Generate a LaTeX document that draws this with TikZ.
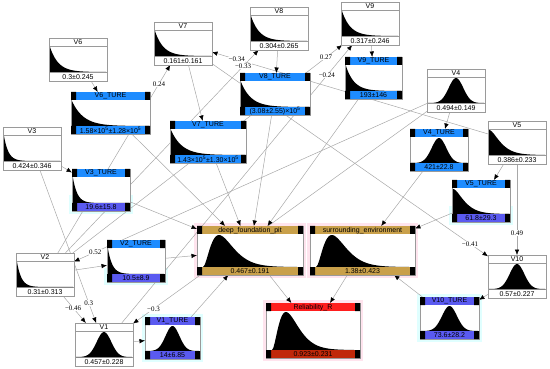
\documentclass[tikz,border=0pt]{standalone}
\usepackage{fontspec}
\setmainfont{Liberation Sans}
\newfontfamily\wtfont{Liberation Serif}
\usetikzlibrary{arrows.meta, calc, backgrounds}
\definecolor{barblue}{HTML}{1E8CFF}
\definecolor{barviolet}{HTML}{5A5AF0}
\definecolor{bartan}{HTML}{C9A04A}
\definecolor{barred}{HTML}{FF1E1E}
\definecolor{bardark}{HTML}{C0280A}
\definecolor{framegray}{HTML}{9A9A9A}
\definecolor{linegray}{HTML}{A8A8A8}
\definecolor{halocyan}{HTML}{E0FFFF}
\definecolor{halopink}{HTML}{FFE4EE}

\newcommand{\histo}[5]{%
  \fill[black] (#2,#4) -- plot[domain=0:1, samples=60]
    ({(#2)+((#3)-(#2))*\x}, {(#4)-(#5)*#1(\x)}) -- (#3,#4) -- cycle;}
\newcommand{\capbar}[3]{%
  \fill[#3] (0,#1) rectangle (#2,#1+8);
  \fill[black] (0,#1) rectangle (5,#1+8) (#2-5,#1) rectangle (#2,#1+8);}
\newcommand{\vmon}[6]{%
  \node[mon, minimum width=58, minimum height=43] (#1) at (#2,#3) {};
  \begin{scope}[shift={(#1.north west)}]
    \draw[rowline] (0,8) -- (58,8) (0,34) -- (58,34);
    \histo{#6}{1}{57}{34}{25}
    \node[txt] at (29,4.3) {#4};
    \node[txt] at (29,38.7) {#5};
  \end{scope}}
\newcommand{\tmon}[9]{%
  \node[mon, minimum width=#4, minimum height=42] (#1) at (#2,#3) {};
  \begin{scope}[shift={(#1.north west)}]
    \histo{#7}{1}{#4-1}{34}{25}
    \capbar{0}{#4}{#8}
    \capbar{34}{#4}{#9}
    \node[txt] at (#4/2,4.2) {#5};
    \node[txt] at (#4/2,38.2) {#6};
  \end{scope}}
\newcommand{\omon}[9]{%
  \node[mon, minimum width=#4, minimum height=#5] (#1) at (#2,#3) {};
  \begin{scope}[shift={(#1.north west)}]
    \histo{skew}{6}{#4-6}{#5-8}{#5-17}
    \capbar{0}{#4}{#8}
    \capbar{#5-8}{#4}{#9}
    \node[txt] at (#4/2,4.2) {#6};
    \node[txt] at (#4/2,#5-3.8) {#7};
  \end{scope}}
\newcommand{\halo}[3]{%
  \begin{pgfonlayer}{background}
    \fill[#2] ($(#1.south west)+(-3,3)$) rectangle ($(#1.south east)+(3,-#3)$);
  \end{pgfonlayer}}

\begin{document}
\begin{tikzpicture}[x=1pt, y=-1pt,
    declare function={decay(\t)=exp(-\t/0.15);
                      sharp(\t)=exp(-\t/0.08);
                      shoulder(\t)=(1+8*\t)*exp(-8*\t);
                      bell(\t)=exp(-0.5*((\t-0.5)/0.13)*((\t-0.5)/0.13));
                      skew(\t)=(\t/0.17)*(\t/0.17)*exp(2*(1-\t/0.17));},
    mon/.style={draw=framegray, fill=white, line width=0.6pt, inner sep=0pt,
                outer sep=0pt, anchor=north west},
    rowline/.style={draw=framegray, line width=0.5pt},
    txt/.style={font=\fontsize{7}{8}\selectfont, inner sep=0pt},
    link/.style={draw=linegray, line width=0.5pt,
                 -{Latex[length=5.5pt, width=4.5pt, color=black]}},
    wt/.style={font=\wtfont\fontsize{7}{8}\selectfont, fill=white, inner sep=0.5pt}
]
    \useasboundingbox (0,0) rectangle (550,369);

    \vmon{v6}{49}{38}{V6}{0.3±0.245}{decay}
    \vmon{v7}{154}{22}{V7}{0.161±0.161}{decay}
    \vmon{v8}{250}{7}{V8}{0.304±0.265}{decay}
    \vmon{v9}{341}{2}{V9}{0.317±0.246}{decay}
    \vmon{v4}{427}{69}{V4}{0.494±0.149}{bell}
    \vmon{v5}{488}{121}{V5}{0.386±0.233}{shoulder}
    \vmon{v3}{3}{127}{V3}{0.424±0.346}{sharp}
    \vmon{v2}{16}{253}{V2}{0.31±0.313}{sharp}
    \vmon{v1}{75}{323}{V1}{0.457±0.228}{bell}
    \vmon{v10}{488}{255}{V10}{0.57±0.227}{bell}

    \tmon{v6t}{71}{92}{79}{V6\_TURE}{1.58×10\textsuperscript{5}±1.28×10\textsuperscript{5}}{decay}{barblue}{barblue}
    \tmon{v7t}{170}{121}{76}{V7\_TURE}{1.43×10\textsuperscript{5}±1.30×10\textsuperscript{5}}{decay}{barblue}{barblue}
    \tmon{v8t}{240}{73}{70}{V8\_TURE}{(3.08±2.55)×10\textsuperscript{5}}{decay}{barblue}{barblue}
    \tmon{v9t}{345}{57}{57}{V9\_TURE}{193±146}{decay}{barblue}{barblue}
    \tmon{v4t}{410}{129}{58}{V4\_TURE}{421±22.8}{bell}{barblue}{barblue}
    \tmon{v5t}{452}{180}{58}{V5\_TURE}{61.8±29.3}{shoulder}{barblue}{barviolet}
    \tmon{v3t}{72}{169}{58}{V3\_TURE}{19.6±15.8}{sharp}{barblue}{barviolet}
    \tmon{v2t}{107}{240}{58}{V2\_TURE}{10.5±8.9}{sharp}{barblue}{barviolet}
    \tmon{v1t}{145}{317}{55}{V1\_TURE}{14±6.85}{bell}{barviolet}{barviolet}
    \tmon{v10t}{420}{297}{59}{V10\_TURE}{73.6±28.2}{bell}{barviolet}{barviolet}

    \omon{dfp}{197}{226}{106}{49}{deep\_foundation\_pit}{0.467±0.191}{bartan}{bartan}
    \omon{env}{310}{226}{105}{49}{surrounding\_environment}{1.38±0.423}{bartan}{bartan}
    \omon{rel}{266}{303}{94}{55}{Reliability\_R}{0.923±0.231}{barred}{bardark}

    \halo{v3t}{halocyan}{16}
    \halo{v5t}{halocyan}{16}
    \halo{v2t}{halocyan}{14}
    \halo{v1t}{halocyan}{45}
    \halo{v10t}{halocyan}{45}
    \halo{dfp}{halopink}{52}
    \halo{env}{halopink}{52}
    \halo{rel}{halopink}{58}

    \begin{pgfonlayer}{background}
    \draw[link] (v2) -- node[wt, pos=0.9]  {0.24} (v7);
    \draw[link] (v5) -- node[wt, pos=0.91] {−0.34} (v7);
    \draw[link] (v2) -- node[wt, pos=0.92] {−0.33} (v8);
    \draw[link] (v2) -- node[wt, pos=0.94] {0.27} (v9);
    \draw[link] (v1) -- node[wt, pos=0.89] {−0.24} (v9);
    \draw[link] (v7) -- node[wt, pos=0.935] {−0.41} (v10);
    \draw[link] (v5) -- node[wt, pos=0.76] {0.49} (v10);
    \draw[link] (v4) -- node[wt, pos=0.93] {−0.3} (v1);
    \draw[link] (v4) -- node[wt, pos=0.94] {0.52} (v2);
    \draw[link] (v2) -- node[wt, pos=0.44] {−0.46} (v1);
    \draw[link] (v3) -- node[wt, pos=0.87] {0.3} (v1);

    \foreach \n in {1,...,10}
        \draw[link] (v\n) -- (v\n t);
    \foreach \n in {6,3,7,8,9,2,1}
        \draw[link] (v\n t) -- (dfp);
    \foreach \n in {4,5,10}
        \draw[link] (v\n t) -- (env);
    \draw[link] (dfp) -- (rel);
    \draw[link] (env) -- (rel);
    \end{pgfonlayer}
\end{tikzpicture}
\end{document}
